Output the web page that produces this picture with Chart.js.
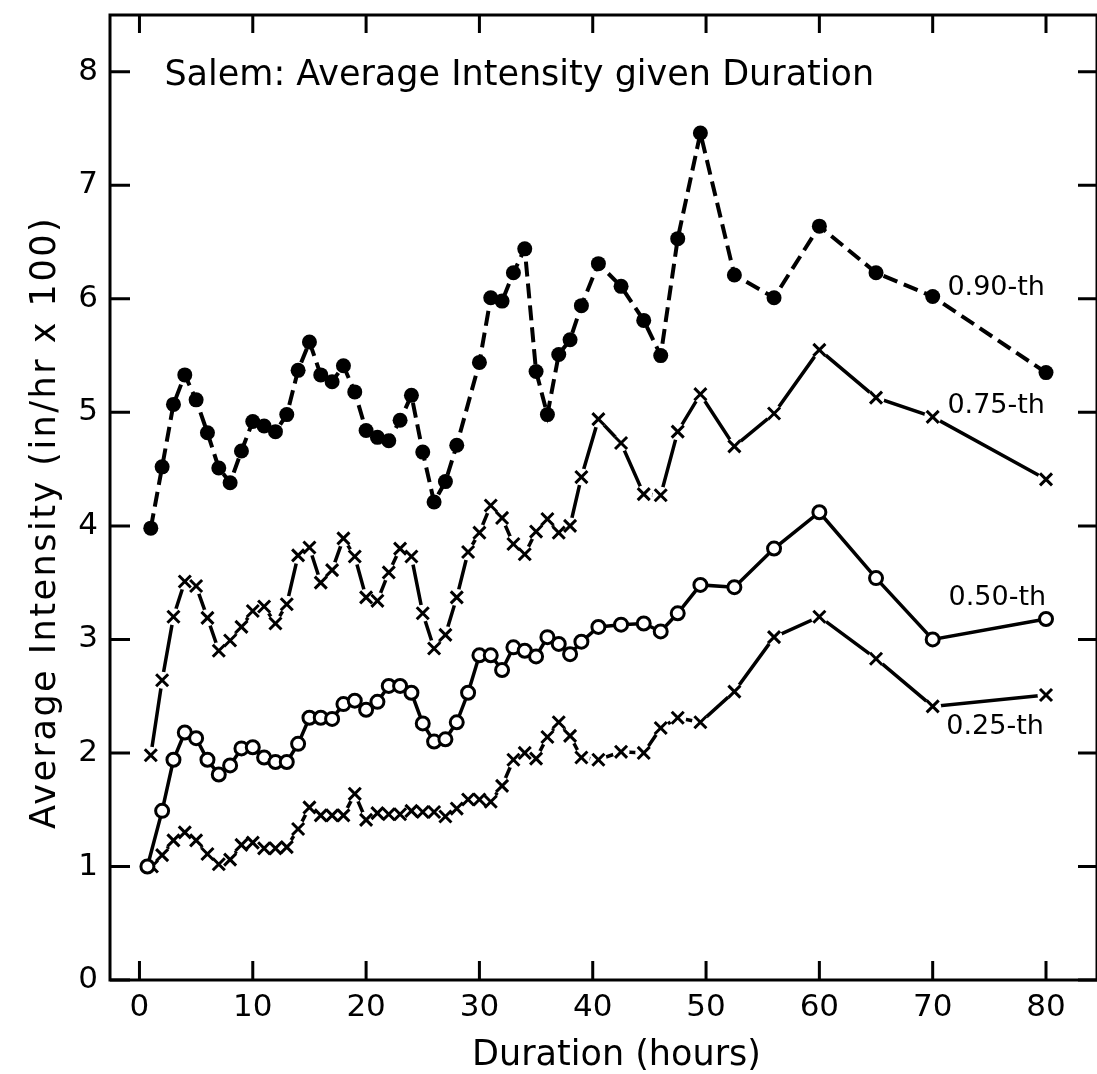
<!DOCTYPE html>
<html>
<head>
<meta charset="utf-8">
<title>Salem: Average Intensity given Duration</title>
<script src="https://cdn.jsdelivr.net/npm/chart.js@4.4.1/dist/chart.umd.min.js"></script>
<style>
  html, body { margin: 0; padding: 0; background: #fff; }
  #wrap { width: 1097px; height: 1074px; }
</style>
</head>
<body>
<div id="wrap"><canvas id="chart" width="1097" height="1074"></canvas></div>
<script>
// Storm duration (hours) of each plotted point, per quantile curve
const HOURS_90 = [1, 2, 3, 4, 5, 6, 7, 8, 9, 10, 11, 12, 13, 14, 15, 16, 17, 18, 19, 20,
    21, 22, 23, 24, 25, 26, 27, 28, 30, 31, 32, 33, 34, 35, 36, 37, 38, 39,
    40.5, 42.5, 44.5, 46, 47.5, 49.5, 52.5, 56, 60, 65, 70, 80];
const HOURS_75 = [1, 2, 3, 4, 5, 6, 7, 8, 9, 10, 11, 12, 13, 14, 15, 16, 17, 18, 19, 20,
    21, 22, 23, 24, 25, 26, 27, 28, 29, 30, 31, 32, 33, 34, 35, 36, 37, 38, 39,
    40.5, 42.5, 44.5, 46, 47.5, 49.5, 52.5, 56, 60, 65, 70, 80];
const HOURS_50 = [0.7, 2, 3, 4, 5, 6, 7, 8, 9, 10, 11, 12, 13, 14, 15, 16, 17, 18, 19, 20,
    21, 22, 23, 24, 25, 26, 27, 28, 29, 30, 31, 32, 33, 34, 35, 36, 37, 38, 39,
    40.5, 42.5, 44.5, 46, 47.5, 49.5, 52.5, 56, 60, 65, 70, 80];
const HOURS_25 = [1.1, 2, 3, 4, 5, 6, 7, 8, 9, 10, 11, 12, 13, 14, 15, 16, 17, 18, 19, 20,
    21, 22, 23, 24, 25, 26, 27, 28, 29, 30, 31, 32, 33, 34, 35, 36, 37, 38, 39,
    40.5, 42.5, 44.5, 46, 47.5, 49.5, 52.5, 56, 60, 65, 70, 80];

// Average intensity (in/hr x 100) at each duration
const Q90 = [3.98, 4.52, 5.07, 5.33, 5.11, 4.82, 4.51, 4.38, 4.66, 4.92, 4.88, 4.83, 4.98, 5.37,
    5.62, 5.33, 5.27, 5.41, 5.18, 4.84, 4.78, 4.75, 4.93, 5.15, 4.65, 4.21, 4.39, 4.71,
    5.44, 6.01, 5.98, 6.23, 6.44, 5.36, 4.98, 5.51, 5.64, 5.94,
    6.31, 6.11, 5.81, 5.50, 6.53, 7.46, 6.21, 6.01, 6.64, 6.23, 6.02, 5.35];
const Q75 = [1.98, 2.64, 3.20, 3.51, 3.47, 3.19, 2.90, 2.99, 3.11, 3.25, 3.29, 3.14, 3.31, 3.74,
    3.81, 3.50, 3.61, 3.89, 3.73, 3.37, 3.34, 3.59, 3.80, 3.73, 3.23, 2.92, 3.04, 3.37,
    3.77, 3.94, 4.18, 4.07, 3.84, 3.75, 3.95, 4.06, 3.94, 4.00, 4.43,
    4.94, 4.73, 4.28, 4.27, 4.83, 5.16, 4.70, 4.99, 5.55, 5.13, 4.96, 4.41];
const Q50 = [1.00, 1.49, 1.94, 2.18, 2.13, 1.94, 1.81, 1.89, 2.04, 2.05, 1.96, 1.92, 1.92, 2.08,
    2.31, 2.31, 2.30, 2.43, 2.46, 2.38, 2.45, 2.59, 2.59, 2.53, 2.26, 2.10, 2.12, 2.27,
    2.53, 2.86, 2.86, 2.73, 2.93, 2.90, 2.85, 3.02, 2.96, 2.87, 2.98,
    3.11, 3.13, 3.14, 3.07, 3.23, 3.48, 3.46, 3.80, 4.12, 3.54, 3.00, 3.18];
const Q25 = [1.00, 1.10, 1.23, 1.30, 1.23, 1.11, 1.02, 1.06, 1.19, 1.21, 1.16, 1.16, 1.17, 1.33,
    1.52, 1.45, 1.45, 1.45, 1.64, 1.41, 1.47, 1.46, 1.46, 1.49, 1.48, 1.48, 1.44, 1.51,
    1.59, 1.59, 1.57, 1.71, 1.94, 2.00, 1.95, 2.14, 2.27, 2.15, 1.96,
    1.94, 2.01, 2.00, 2.22, 2.31, 2.27, 2.54, 3.02, 3.20, 2.83, 2.41, 2.51];

const X_TICKS = [0, 10, 20, 30, 40, 50, 60, 70, 80];
const Y_TICKS = [0, 1, 2, 3, 4, 5, 6, 7, 8];

const INK = '#000';
const FONT = 'DejaVu Sans, sans-serif';

const pts = (hours, vals) => hours.map((h, i) => ({ x: h, y: vals[i] }));

// x-marked curves: a plain line, white halos that open a gap round each mark, then the marks
function crossSeries(hours, vals) {
    const data = pts(hours, vals);
    return [
        { data, showLine: true, borderColor: INK, borderWidth: 3.5, pointRadius: 0, order: 2 },
        { data, showLine: false, pointStyle: 'circle', pointRadius: 8.5,
            pointBackgroundColor: '#fff', pointBorderWidth: 0, order: 1 },
        { data, showLine: false, pointStyle: 'crossRot', pointRadius: 8.5,
            pointBorderColor: INK, pointBorderWidth: 3, order: 0 },
    ];
}

// frame with inward tick marks on all four sides, plus the lettering
const frame = {
    id: 'frame',
    beforeDatasetsDraw(chart) {
        const { ctx, chartArea: a, scales: { x, y } } = chart;
        ctx.save();
        ctx.strokeStyle = INK;
        ctx.lineWidth = 3;
        ctx.strokeRect(a.left, a.top, a.right - a.left, a.bottom - a.top);
        ctx.beginPath();
        X_TICKS.forEach(v => {
            const px = x.getPixelForValue(v);
            ctx.moveTo(px, a.bottom); ctx.lineTo(px, a.bottom - 19);
            ctx.moveTo(px, a.top); ctx.lineTo(px, a.top + 18);
        });
        Y_TICKS.forEach(v => {
            const py = y.getPixelForValue(v);
            ctx.moveTo(a.left, py); ctx.lineTo(a.left + 20, py);
            ctx.moveTo(a.right, py); ctx.lineTo(a.right - 19, py);
        });
        ctx.stroke();
        ctx.restore();
    },
    afterDatasetsDraw(chart) {
        const { ctx, chartArea: a, scales: { x, y } } = chart;
        ctx.save();
        ctx.fillStyle = INK;
        ctx.textBaseline = 'alphabetic';
        ctx.textAlign = 'left';
        ctx.font = '35px ' + FONT;
        ctx.fillText('Salem: Average Intensity given Duration', x.getPixelForValue(2.2), y.getPixelForValue(7.88));

        ctx.font = '27px ' + FONT;
        [['0.90-th', 71.3, 6.03], ['0.75-th', 71.3, 4.99], ['0.50-th', 71.4, 3.30], ['0.25-th', 71.2, 2.17]]
            .forEach(([t, h, v]) => ctx.fillText(t, x.getPixelForValue(h), y.getPixelForValue(v)));

        // axis titles
        ctx.font = '35px ' + FONT;
        ctx.textAlign = 'center';
        ctx.fillText('Duration (hours)', (a.left + a.right) / 2 + 13, a.bottom + 85);
        ctx.translate(a.left - 55, (a.top + a.bottom) / 2 + 25);
        ctx.rotate(-Math.PI / 2);
        ctx.letterSpacing = '2.5px';
        ctx.fillText('Average Intensity (in/hr x 100)', 0, 0);
        ctx.restore();
    }
};

new Chart(document.getElementById('chart'), {
    type: 'scatter',
    data: {
        datasets: [
            { data: pts(HOURS_90, Q90), showLine: true, borderColor: INK, borderWidth: 4,
                borderDash: [15, 7], pointStyle: 'circle', pointRadius: 7.5,
                pointBackgroundColor: INK, pointBorderWidth: 0, order: 0 },
            ...crossSeries(HOURS_75, Q75),
            { data: pts(HOURS_50, Q50), showLine: true, borderColor: INK, borderWidth: 3.5,
                pointStyle: 'circle', pointRadius: 6.5, pointBackgroundColor: '#fff',
                pointBorderColor: INK, pointBorderWidth: 3, order: 0 },
            ...crossSeries(HOURS_25, Q25),
        ],
    },
    options: {
        responsive: false,
        animation: false,
        events: [],
        layout: { autoPadding: false, padding: { top: 15, left: 0, right: 0, bottom: 0 } },
        plugins: { legend: { display: false }, tooltip: { enabled: false } },
        scales: {
            x: {
                type: 'linear', min: -2.6, max: 84.5,
                afterBuildTicks: s => { s.ticks = X_TICKS.map(v => ({ value: v })); },
                afterFit: s => { s.height = 94; s.paddingLeft = 0; s.paddingRight = 0; },
                grid: { display: false, drawTicks: false },
                border: { display: false },
                ticks: { color: INK, font: { family: FONT, size: 31 }, padding: 9,
                    maxRotation: 0, autoSkip: false, callback: v => String(v) },
            },
            y: {
                type: 'linear', min: 0, max: 8.5,
                afterBuildTicks: s => { s.ticks = Y_TICKS.map(v => ({ value: v })); },
                afterFit: s => { s.width = 110; s.paddingTop = 0; s.paddingBottom = 0; },
                grid: { display: false, drawTicks: false },
                border: { display: false },
                ticks: { color: INK, font: { family: FONT, size: 31 }, padding: 12,
                    autoSkip: false, callback: v => String(v) },
            },
        },
    },
    plugins: [frame],
});
</script>
</body>
</html>
